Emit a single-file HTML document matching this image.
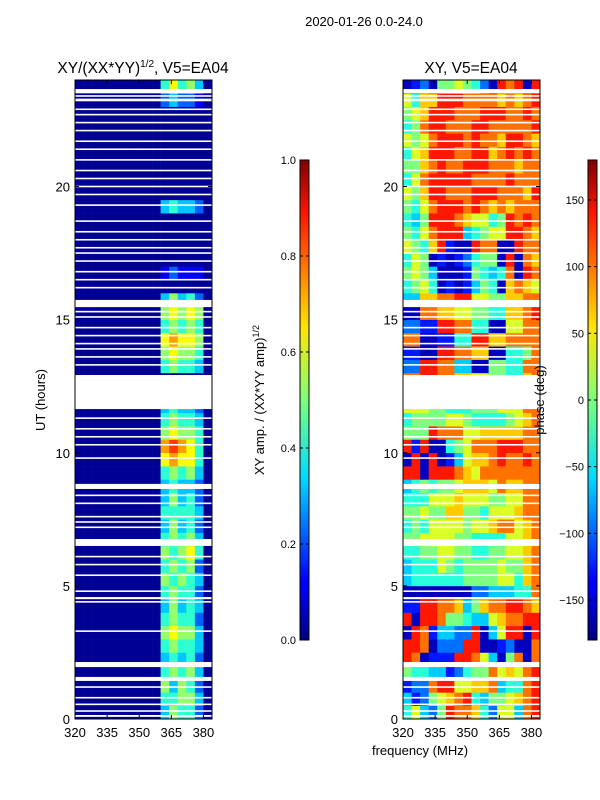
<!DOCTYPE html>
<html><head><meta charset="utf-8"><style>
html,body{margin:0;padding:0;background:#fff;}
svg{display:block;font-family:"Liberation Sans","DejaVu Sans",sans-serif;}
</style></head><body>
<svg id="fig" width="600" height="800" viewBox="0 0 600 800" xmlns="http://www.w3.org/2000/svg">
<text x="364" y="26" font-size="13" text-anchor="middle">2020-01-26 0.0-24.0</text>
<text x="143" y="73" font-size="15.5" text-anchor="middle">XY/(XX*YY)<tspan font-size="10" dy="-6">1/2</tspan><tspan dy="6">, V5=EA04</tspan></text>
<text x="471" y="73" font-size="15.5" text-anchor="middle">XY, V5=EA04</text>
<g id="ampPanel"></g>
<g id="phasePanel"></g>
<g id="axes"></g>
<text x="45" y="400" font-size="13" text-anchor="middle" transform="rotate(-90 45 400)">UT (hours)</text>
<text x="420" y="755" font-size="13" text-anchor="middle">frequency (MHz)</text>
<text x="264" y="400" font-size="13" text-anchor="middle" transform="rotate(-90 264 400)">XY amp. / (XX*YY amp)<tspan font-size="9" dy="-5">1/2</tspan></text>
<text x="544" y="400" font-size="13" text-anchor="middle" transform="rotate(-90 544 400)">phase (deg)</text>
<defs>
<linearGradient id="jet" x1="0" y1="1" x2="0" y2="0">
<stop offset="0" stop-color="#00007f"/><stop offset="0.11" stop-color="#0000ff"/><stop offset="0.125" stop-color="#0000ff"/><stop offset="0.34" stop-color="#00dcff"/><stop offset="0.5" stop-color="#7dff7a"/><stop offset="0.65" stop-color="#ffe600"/><stop offset="0.89" stop-color="#ff1400"/><stop offset="1" stop-color="#7f0000"/>
</linearGradient>
</defs>
</svg>
<script>
const NS='http://www.w3.org/2000/svg';
const freqEdges=[320,324,328,332,336,340,344,348,352,356,360,364,368,372,376,380,384];
const rowHours=[0,0.5,1,1.5,2,2.5,3,3.5,4,4.5,5,5.5,6,6.5,7,7.5,8,8.5,9,9.5,10,10.5,11,11.5,12,12.5,13,13.5,14,14.5,15,15.5,16,16.5,17,17.5,18,18.5,19,19.5,20,20.5,21,21.5,22,22.5,23,23.5];
const ampRows=["0000000000354420","0000000000445530","0000000000535420","0000000000454530","0000000000343420","0000000000454430","0000000000565530","0000000000454420","0000000000353430","0000000000454420","0000000000545430","0000000000454520","0000000000545640","0000000000454530","0000000000353420","0000000000444430","0000000000353420","0000000000343320","0000000000454530","0000000000676640","0000000000787640","0000000000565540","0000000000454430","0000000000343320","0000000000000000","0000000000000000","0000000000454430","0000000000565540","0000000000676650","0000000000454540","0000000000565650","0000000000353420","0000000000000000","0000000000121110","0000000000000000","0000000000000000","0000000000000000","0000000000000000","0000000000343320","0000000000000000","0000000000000000","0000000000000000","0000000000000000","0000000000000000","0000000000000000","0000000000000000","0000000000232210","0000000000464530"];
const phaseRows=["4632598874266389","3125678943556789","1228996677834489","5443312455867689","9801119986305808","9980222990012008","0981332290369909","9099855433678899","1199887357889987","0000000022333448","3444444555566478","3444654555565578","4455665544556678","5566665544446678","4546666566788678","5565577554666788","4446667666556688","3454556777687788","9909998768888888","0909013677898898","9190045688899988","5559888667777788","4555566544445678","6665544455566688","5555555555555555","8899887766554478","2299883300554488","1100998877004458","8800114499778888","2211998844006688","0088776655447789","3377889966557788","4564010135407876","5653000154348098","4650101245509087","6547910098800988","5468999345669987","4359998766459898","5468999898787888","6579988899988879","4689999988889888","5578988999888788","4679998899789898","6568999898879987","4589988899888889","5679998889998898","6477999888878789","0120556542098909"];
const gapStarts=[0.08,1.43,1.95,4.5,6.5,8.64,11.64,15.47,23.2,23.5];
const gapEnds=[0.15,1.58,2.14,4.58,6.76,8.83,12.92,15.74,23.3,23.66];
const lineHours=[0.3,0.55,0.8,1.2,3.3,4.4,4.8,5.4,5.8,6.1,7.2,7.4,7.6,8.1,8.4,8.7,9.8,10.3,10.6,10.9,11.3,13.3,13.6,13.9,14.1,14.4,14.7,15.1,15.3,16.2,16.5,16.8,17.2,17.5,17.7,18.0,18.3,18.7,19.3,19.7,20.0,20.3,20.6,21.0,21.4,21.7,22.1,22.4,22.7,22.9,23.4];
const xTicks=[320,335,350,365,380];
const yTicks=[0,5,10,15,20];
const ampTicks=[0.0,0.2,0.4,0.6,0.8,1.0];
const phaseTicks=[-150,-100,-50,0,50,100,150];

function jet(v){v=Math.max(0,Math.min(1,v));
 const r=Math.max(0,Math.min(1,1.5-Math.abs(4*v-3)));
 const g=Math.max(0,Math.min(1,1.5-Math.abs(4*v-2)));
 const b=Math.max(0,Math.min(1,1.5-Math.abs(4*v-1)));
 return 'rgb('+Math.round(r*255)+','+Math.round(g*255)+','+Math.round(b*255)+')';}
const T0=80,T1=719;
function yS(t){return T1-(t/24)*(T1-T0);}
function xS(x0,f){return x0+(f-320)*137/64;}
function mk(tag,attrs,parent){const e=document.createElementNS(NS,tag);for(const k in attrs)e.setAttribute(k,attrs[k]);parent.appendChild(e);return e;}

function panel(gid,x0,rows,toVal){
 const g=document.getElementById(gid);
 rows.forEach((row,i)=>{
  const t0=rowHours[i],t1=t0+0.5;
  for(let j=0;j<16;j++){
   const xa=xS(x0,freqEdges[j]),xb=xS(x0,freqEdges[j+1]);
   const c=mk('rect',{x:xa,y:yS(t1),width:xb-xa+0.3,height:yS(t0)-yS(t1)+0.3,fill:jet(toVal(+row[j]))},g);
   
   
  }
 });
 gapStarts.forEach((s,i)=>{
  const r=mk('rect',{x:x0,y:yS(gapEnds[i]),width:137,height:yS(s)-yS(gapEnds[i]),fill:'#fff'},g);
  
  
 });
 lineHours.forEach(h=>{
  const r=mk('rect',{x:x0,y:yS(h)-0.8,width:137,height:1.6,fill:'#fff'},g);
  
  
 });
}
panel('ampPanel',75,ampRows,d=>0.02+d*0.1);
panel('phasePanel',403,phaseRows,d=>0.06+d*0.088);

const ax=document.getElementById('axes');
[75,403].forEach(x0=>{
 const f=mk('rect',{x:x0,y:T0,width:137,height:T1-T0,fill:'none',stroke:'#000','stroke-width':1},ax);
 
 
 xTicks.forEach(v=>{const x=xS(x0,v);
  mk('line',{x1:x,x2:x,y1:T1,y2:T1-4,stroke:'#000'},ax);mk('line',{x1:x,x2:x,y1:T0,y2:T0+4,stroke:'#000'},ax);
  const t=mk('text',{x:x,y:T1+18,'font-size':13,'text-anchor':'middle'},ax);t.textContent=v;
  
  
 });
 yTicks.forEach(v=>{const y=yS(v);
  mk('line',{x1:x0,x2:x0+4,y1:y,y2:y,stroke:'#000'},ax);mk('line',{x1:x0+137,x2:x0+133,y1:y,y2:y,stroke:'#000'},ax);
  const t=mk('text',{x:x0-5,y:y+5,'font-size':13,'text-anchor':'end'},ax);t.textContent=v;
  
  
 });
});
function cbar(x,lo,hi,ticks,fmt,name){
 const C0=160,C1=640;
 const r=mk('rect',{x:x,y:C0,width:9,height:C1-C0,fill:'url(#jet)',stroke:'#000','stroke-width':1},ax);
 
 
 ticks.forEach(v=>{const y=C1-(v-lo)/(hi-lo)*(C1-C0);
  mk('line',{x1:x,x2:x+3,y1:y,y2:y,stroke:'#000'},ax);mk('line',{x1:x+9,x2:x+6,y1:y,y2:y,stroke:'#000'},ax);
  const t=mk('text',{x:x-4,y:y+4,'font-size':11,'text-anchor':'end'},ax);t.textContent=fmt(v);
  
  
 });
}
cbar(300,0,1,ampTicks,v=>v.toFixed(1),'amp-colorbar');
cbar(588,-180,180,phaseTicks,v=>(v<0?'\u2212'+(-v):''+v),'phase-colorbar');
</script>
</body></html>
